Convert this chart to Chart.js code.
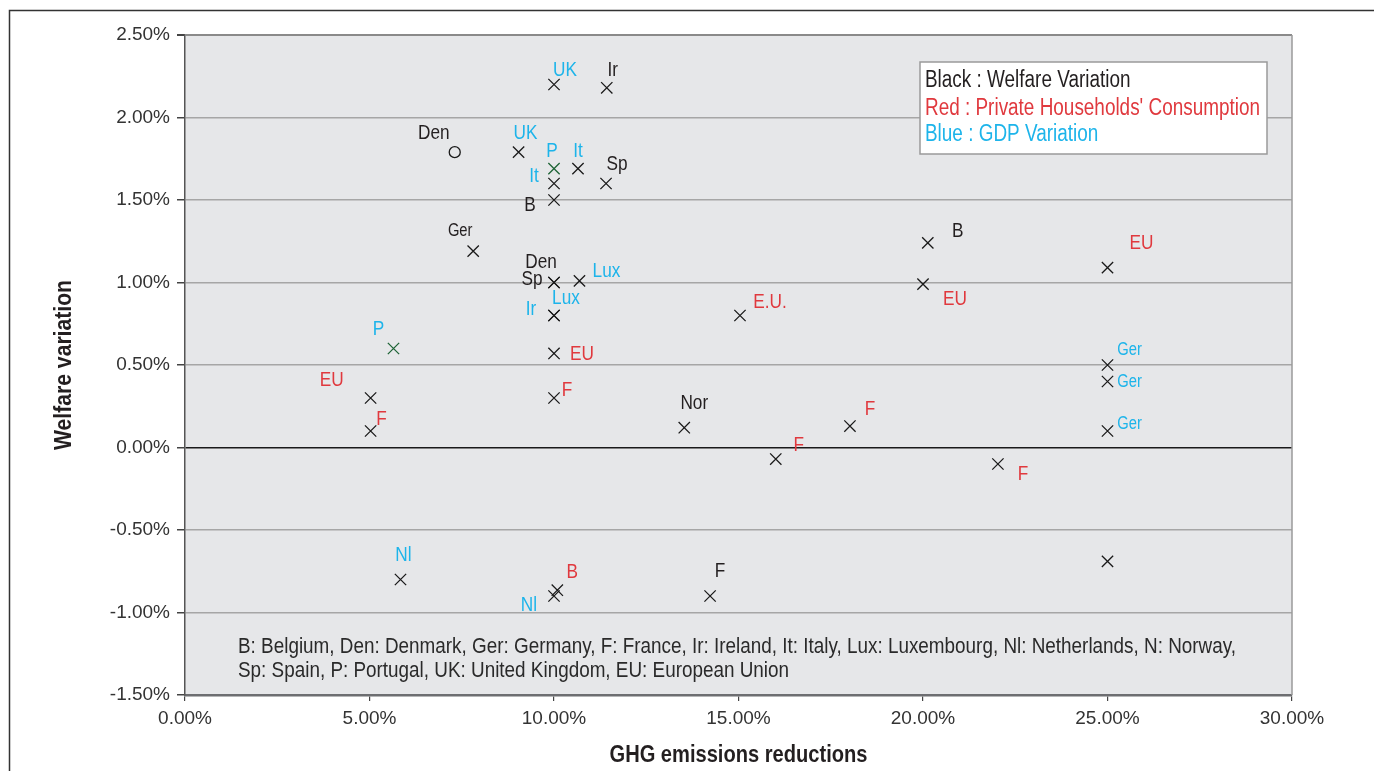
<!DOCTYPE html>
<html><head><meta charset="utf-8">
<script src="https://cdn.jsdelivr.net/npm/chart.js@4.4.1/dist/chart.umd.min.js"></script>
<style>html,body{margin:0;padding:0;background:#fff;}#wrap{width:1374px;height:771px;position:relative;}</style>
</head><body><div id="wrap"><canvas id="c" width="1374" height="771"></canvas></div>
<script>
// ---- Data ----
const welfareLabels = ['Ir', 'Den', 'Sp', 'B', 'Ger', 'Den', 'Sp', 'Nor', 'B', 'F', ''];
const welfareX = [11.43, 7.31, 11.41, 10.0, 7.81, 10.0, 10.0, 13.53, 20.13, 14.23, 25.0];
const welfareY = [2.18, 1.79, 1.60, 1.50, 1.19, 1.00, 1.00, 0.12, 1.24, -0.90, -0.69];

const consumptionLabels = ['EU', 'EU', 'F', 'F', 'F', 'F', 'E.U.', 'EU', 'EU', 'F', 'B'];
const consumptionX = [10.0, 5.03, 5.03, 10.0, 16.01, 18.02, 15.04, 20.0, 25.0, 22.03, 10.09];
const consumptionY = [0.57, 0.30, 0.10, 0.30, -0.07, 0.13, 0.80, 0.99, 1.09, -0.10, -0.865];

const gdpLabels = ['UK', 'UK', 'P', 'It', 'It', 'Lux', 'Lux', 'Ir', 'P', 'Ger', 'Ger', 'Ger', 'Nl', 'Nl'];
const gdpX = [10.0, 9.04, 10.0, 10.65, 10.0, 10.69, 10.0, 10.0, 5.65, 25.0, 25.0, 25.0, 5.84, 10.0];
const gdpY = [2.20, 1.79, 1.69, 1.69, 1.60, 1.01, 0.80, 0.80, 0.60, 0.50, 0.40, 0.10, -0.80, -0.90];

const xTicks = [0, 5, 10, 15, 20, 25, 30];
const yTicks = [-1.5, -1.0, -0.5, 0, 0.5, 1.0, 1.5, 2.0, 2.5];

const xTitle = 'GHG emissions reductions';
const yTitle = 'Welfare variation';
const legendLines = ['Black : Welfare Variation', "Red : Private Households' Consumption", 'Blue : GDP Variation'];
const footnoteLines = [
  'B: Belgium, Den: Denmark, Ger: Germany, F: France, Ir: Ireland, It: Italy, Lux: Luxembourg, Nl: Netherlands, N: Norway,',
  'Sp: Spain, P: Portugal, UK: United Kingdom, EU: European Union'
];

// ---- Label placement (pixel offsets from each marker) ----
const welfareOffsets = [[6,-18],[-21,-19],[11,-19],[-24,5],[-13,-20],[-13,-20],[-22,-3],[10,-24],[30,-12],[10,-25],null];
const consumptionOffsets = [[28,1],[-39,-18],[11,-12],[13,-8],[23,-14],[20,-17],[30,-13],[32,15],[34,-24],[25,10],[15,-18]];
const gdpOffsets = [[11,-14],[7,-19],[-2,-17],[0,-17],[-20,-7],[27,-10],[12,-17],[-23,-6],[-15,-19],[22,-15],[22,1],[22,-7],[3,-24],[-25,9]];

const BLACK = '#231f20', RED = '#e0393e', BLUE = '#1db4ea', GREEN = '#1e6436';
const SANS = '"Liberation Sans", Arial, sans-serif';
const NARROW_SCALE = 0.82;

function pts(xs, ys) { return xs.map((x, i) => ({x: x, y: ys[i]})); }

// draw horizontally condensed text
function condText(ctx, text, x, y, font, color, align, sx, rot) {
  ctx.save();
  ctx.font = font;
  ctx.fillStyle = color;
  ctx.textAlign = align;
  ctx.textBaseline = 'middle';
  ctx.translate(x, y);
  if (rot) ctx.rotate(rot);
  ctx.scale(sx, 1);
  ctx.fillText(text, 0, 0);
  ctx.restore();
}
function fitScale(ctx, text, font, width) {
  ctx.save(); ctx.font = font; const w = ctx.measureText(text).width; ctx.restore();
  return width / w;
}

const groups = [
  {labels: welfareLabels, offsets: welfareOffsets, color: BLACK},
  {labels: consumptionLabels, offsets: consumptionOffsets, color: RED},
  {labels: gdpLabels, offsets: gdpOffsets, color: BLUE}
];

const decorPlugin = {
  id: 'decor',
  beforeDraw(chart) {
    const {ctx, chartArea: a} = chart;
    ctx.save();
    ctx.fillStyle = '#ffffff';
    ctx.fillRect(0, 0, chart.width, chart.height);
    ctx.strokeStyle = '#333333';
    ctx.lineWidth = 1.5;
    ctx.beginPath();
    ctx.moveTo(9.5, chart.height + 5);
    ctx.lineTo(9.5, 10.5);
    ctx.lineTo(chart.width + 5, 10.5);
    ctx.stroke();
    ctx.fillStyle = '#e6e7e9';
    ctx.fillRect(a.left, a.top, a.right - a.left, a.bottom - a.top);
    ctx.restore();
  },
  beforeDatasetsDraw(chart) {
    const {ctx, chartArea: a} = chart;
    ctx.save();
    ctx.strokeStyle = '#9a9a9a';
    ctx.lineWidth = 1.5;
    ctx.beginPath();
    ctx.moveTo(a.right, a.top);
    ctx.lineTo(a.right, a.bottom);
    ctx.stroke();
    ctx.restore();
  },
  afterDatasetsDraw(chart) {
    const {ctx, chartArea: a} = chart;
    // point labels
    groups.forEach((g, gi) => {
      const meta = chart.getDatasetMeta(gi);
      meta.data.forEach((el, i) => {
        const t = g.labels[i];
        const off = g.offsets[i];
        if (!t || !off) return;
        const size = t === 'Ger' ? 18 : 21;
        condText(ctx, t, el.x + off[0], el.y + off[1], size + 'px ' + SANS, g.color, 'center', NARROW_SCALE);
      });
    });
    // legend box
    const bx = 920, by = 62, bw = 347, bh = 92;
    ctx.save();
    ctx.fillStyle = '#ffffff';
    ctx.fillRect(bx, by, bw, bh);
    ctx.strokeStyle = '#9a9a9a';
    ctx.lineWidth = 1.5;
    ctx.strokeRect(bx, by, bw, bh);
    ctx.restore();
    const lf = '23px ' + SANS;
    const ls = fitScale(ctx, legendLines[1], lf, 335);
    const lc = [BLACK, RED, BLUE];
    const ly = [81, 109, 135];
    legendLines.forEach((s, i) => condText(ctx, s, 925, ly[i], lf, lc[i], 'left', ls));
    // footnote
    const ff = '22px ' + SANS;
    const fs = fitScale(ctx, footnoteLines[0], ff, 998);
    condText(ctx, footnoteLines[0], 238, 647, ff, '#2a2a2a', 'left', fs);
    condText(ctx, footnoteLines[1], 238, 671, ff, '#2a2a2a', 'left', fs);
  },
  afterDraw(chart) {
    const {ctx, chartArea: a} = chart;
    const tf = 'bold 24px ' + SANS;
    const xs = fitScale(ctx, xTitle, tf, 258);
    condText(ctx, xTitle, (a.left + a.right) / 2, 755, tf, BLACK, 'center', xs);
    const ys = fitScale(ctx, yTitle, tf, 170);
    condText(ctx, yTitle, 64, (a.top + a.bottom) / 2, tf, BLACK, 'center', ys, -Math.PI / 2);
  }
};

new Chart(document.getElementById('c'), {
  type: 'scatter',
  data: {
    datasets: [
      {
        label: 'Welfare Variation',
        data: pts(welfareX, welfareY),
        pointStyle: welfareX.map((_, i) => i === 1 ? 'circle' : 'crossRot'),
        pointRadius: welfareX.map((_, i) => i === 1 ? 5.5 : 8),
        pointBorderWidth: 1.3,
        pointBorderColor: '#1a1a1a',
        pointBackgroundColor: 'rgba(0,0,0,0)'
      },
      {
        label: "Private Households' Consumption",
        data: pts(consumptionX, consumptionY),
        pointStyle: 'crossRot',
        pointRadius: 8,
        pointBorderWidth: 1.3,
        pointBorderColor: '#1a1a1a',
        pointBackgroundColor: 'rgba(0,0,0,0)'
      },
      {
        label: 'GDP Variation',
        data: pts(gdpX, gdpY),
        pointStyle: 'crossRot',
        pointRadius: 8,
        pointBorderWidth: 1.3,
        pointBorderColor: gdpLabels.map(l => l === 'P' ? GREEN : '#1a1a1a'),
        pointBackgroundColor: 'rgba(0,0,0,0)'
      }
    ]
  },
  options: {
    responsive: false,
    animation: false,
    events: [],
    layout: {padding: {left: 0, top: 35, right: 82, bottom: 0}},
    plugins: {legend: {display: false}, tooltip: {enabled: false}},
    scales: {
      x: {
        type: 'linear', min: 0, max: 30,
        afterFit(s) { s.height = 76; },
        afterBuildTicks(s) { s.ticks = xTicks.map(v => ({value: v})); },
        ticks: {
          callback: v => v.toFixed(2) + '%',
          color: '#333333', padding: 6,
          font: {family: SANS, size: 19}, maxRotation: 0
        },
        grid: {drawOnChartArea: false, drawTicks: true, tickLength: 6, tickColor: '#444444', lineWidth: 1.2},
        border: {color: '#6d6e71', width: 2.5},
        title: {display: false}
      },
      y: {
        type: 'linear', min: -1.5, max: 2.5,
        afterFit(s) { s.width = 185; },
        afterBuildTicks(s) { s.ticks = yTicks.map(v => ({value: v})); },
        ticks: {
          callback: v => v.toFixed(2) + '%',
          color: '#333333', padding: 7,
          font: {family: SANS, size: 19}
        },
        grid: {
          color: c => (c.tick && Math.abs(c.tick.value) < 1e-9) ? '#1a1a1a' : (c.tick && c.tick.value === 2.5 ? '#8a8a8a' : '#a6a6a6'),
          lineWidth: c => (c.tick && c.tick.value === 2.5) ? 2 : 1.5,
          drawTicks: true, tickLength: 8, tickColor: '#444444'
        },
        border: {color: '#555555', width: 1.5},
        title: {display: false}
      }
    }
  },
  plugins: [decorPlugin]
});
</script></body></html>
